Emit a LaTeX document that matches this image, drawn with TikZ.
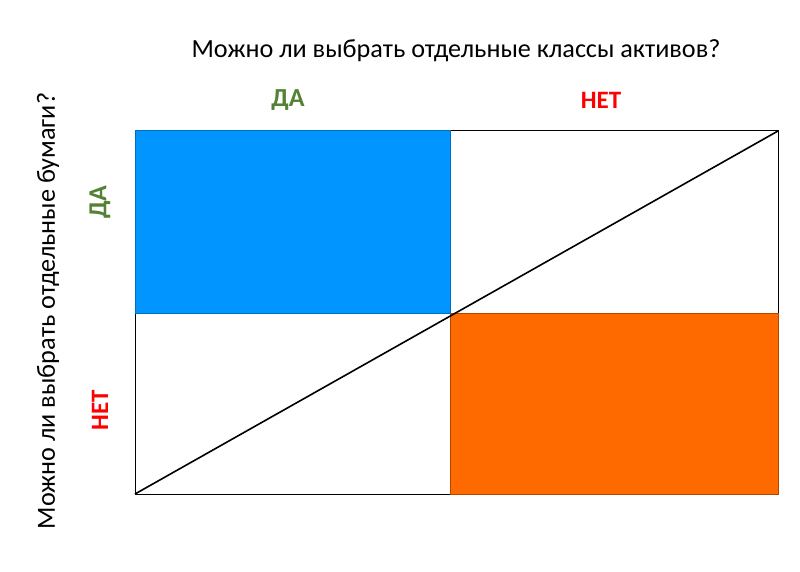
\documentclass[tikz,border=0pt]{standalone}
\usepackage{fontspec}
\setmainfont{Carlito}
\usetikzlibrary{positioning}

\definecolor{blueq}{RGB}{0,149,255}
\definecolor{blueline}{RGB}{0,110,190}
\definecolor{orangeq}{RGB}{255,106,0}
\definecolor{orangeline}{RGB}{180,70,0}
\definecolor{yesgreen}{RGB}{84,130,53}

\begin{document}
\begin{tikzpicture}[x=1pt,y=-1pt]
  \tikzset{cell/.style = {draw,anchor=north west,inner sep=0pt,outer sep=0pt,line width=1pt,minimum width=315pt,minimum height=182pt}}
  \tikzset{question/.style = {font=\fontsize{26.2}{30}\selectfont}}
  \tikzset{yes/.style = {font=\bfseries\fontsize{26}{30}\selectfont,text=yesgreen}}
  \tikzset{no/.style = {font=\bfseries\fontsize{25}{30}\selectfont,text=red}}

  \useasboundingbox (0,0) rectangle (800,572);

  % white cells first, coloured ones on top
	\node[cell] (TR) at (450,131) [minimum width=328pt] {};
	\node[cell] (BL) at (135,313) [minimum height=181pt] {};
	\node[cell,fill=blueq,draw=blueline] (TL) at (135,131) {};
	\node[cell,fill=orangeq,draw=orangeline] (BR) at (450,313) [minimum width=328pt,minimum height=181pt] {};

	\draw[line width=1.6pt] (BL.south west) -- (TR.north east);

	\node[question] (topq) at (456,51) {Можно ли выбрать отдельные классы активов?};
	\node[question,rotate=90] (leftq) at (48,311) {Можно ли выбрать отдельные бумаги?};

	\node[yes] (topyes) at (288,100) {ДА};
	\node[no] (topno) at (601,100) {НЕТ};
	\node[yes,rotate=90] (leftyes) at (100,202) {ДА};
	\node[no,rotate=90] (leftno) at (100,410) {НЕТ};
\end{tikzpicture}
\end{document}
